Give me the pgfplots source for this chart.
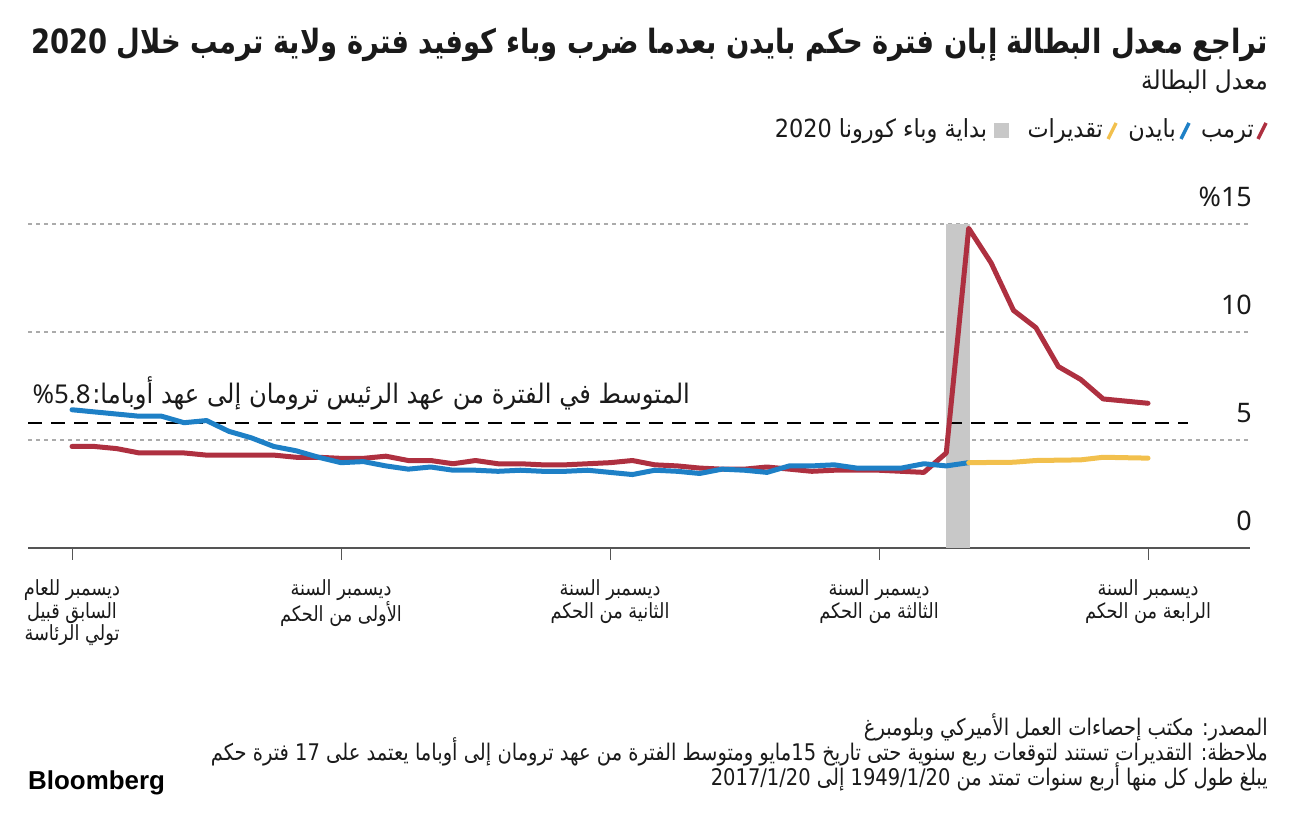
\documentclass[border=0pt]{standalone}
\usepackage{fontspec}
\usepackage{pgfplots}
\pgfplotsset{compat=1.18}
\usetikzlibrary{calc}
\setmainfont{Noto Sans}
\newfontfamily\arabicfont[Script=Arabic,FakeStretch=0.9]{DejaVu Sans}
\newfontfamily\arabictitle[Script=Arabic,FakeStretch=0.82]{DejaVu Sans}
\newfontfamily\arabicnarrow[Script=Arabic,FakeStretch=0.85]{DejaVu Sans}
\newfontfamily\numfont{Noto Sans}
\newfontfamily\brandfont{Liberation Sans}
\TeXXeTstate=1
\definecolor{trumpred}{HTML}{AE3040}
\definecolor{bidenblue}{HTML}{1E80C6}
\definecolor{estyellow}{HTML}{F2C04D}
\definecolor{bandgray}{HTML}{C8C8C8}
\definecolor{gridgray}{HTML}{ABABAB}
\definecolor{axisgray}{HTML}{555555}
\definecolor{txt}{HTML}{1A1A1A}

\pgfplotstableread{
m v
0 4.7
1 4.7
2 4.6
3 4.4
4 4.4
5 4.4
6 4.3
7 4.3
8 4.3
9 4.3
10 4.2
11 4.2
12 4.15
13 4.15
14 4.25
15 4.05
16 4.05
17 3.9
18 4.05
19 3.9
20 3.9
21 3.85
22 3.85
23 3.9
24 3.95
25 4.05
26 3.85
27 3.8
28 3.7
29 3.65
30 3.65
31 3.75
32 3.65
33 3.55
34 3.6
35 3.6
36 3.6
37 3.55
38 3.5
39 4.4
40 14.8
41 13.2
42 11.0
43 10.2
44 8.4
45 7.8
46 6.9
47 6.8
48 6.7
}\trump

\pgfplotstableread{
m v
0 6.4
1 6.3
2 6.2
3 6.1
4 6.1
5 5.8
6 5.9
7 5.4
8 5.1
9 4.7
10 4.5
11 4.2
12 3.95
13 4.0
14 3.8
15 3.65
16 3.75
17 3.6
18 3.6
19 3.55
20 3.6
21 3.55
22 3.55
23 3.6
24 3.5
25 3.4
26 3.6
27 3.55
28 3.45
29 3.65
30 3.6
31 3.5
32 3.8
33 3.8
34 3.85
35 3.7
36 3.7
37 3.7
38 3.9
39 3.8
40 3.95
}\biden

\pgfplotstableread{
m v
40 3.95
42 3.97
43 4.05
45 4.08
46 4.2
48 4.16
}\estim

\begin{document}
\begin{tikzpicture}[x=1bp,y=1bp]
\path[use as bounding box] (0,0) rectangle (1296,828);

% title block
\node[anchor=east, inner sep=0pt, text=txt] at (1268,783)
  {\arabictitle\bfseries\fontsize{33.5}{38}\selectfont\beginR تراجع معدل البطالة إبان فترة حكم بايدن بعدما ضرب وباء كوفيد فترة ولاية ترمب خلال 2020\endR};
\node[anchor=east, inner sep=0pt, text=txt] at (1268,746)
  {\arabicfont\fontsize{26}{30}\selectfont\beginR معدل البطالة\endR};

% legend
\draw[trumpred, line width=3.4bp] (1258,689) -- (1266,705);
\node[anchor=base east, inner sep=0pt, text=txt] (t1) at (1254,690)
  {\arabicfont\fontsize{25}{28}\selectfont\beginR ترمب\endR};
\path (t1.west) ++(-16,0) coordinate (m2);
\draw[bidenblue, line width=3.4bp] (m2 |- 0,689) ++(-4,0) -- ++(8,16);
\node[anchor=base east, inner sep=0pt, text=txt] (t2) at ($(m2 |- 0,690)+(-9,0)$)
  {\arabicfont\fontsize{25}{28}\selectfont\beginR بايدن\endR};
\path (t2.west) ++(-16,0) coordinate (m3);
\draw[estyellow, line width=3.4bp] (m3 |- 0,689) ++(-4,0) -- ++(8,16);
\node[anchor=base east, inner sep=0pt, text=txt] (t3) at ($(m3 |- 0,690)+(-9,0)$)
  {\arabicfont\fontsize{25}{28}\selectfont\beginR تقديرات\endR};
\path (t3.west) ++(-26,0) coordinate (m4);
\fill[bandgray] (m4 |- 0,690) ++(-7,0) rectangle ++(15,15);
\node[anchor=base east, inner sep=0pt, text=txt] (t4) at ($(m4 |- 0,690)+(-14,0)$)
  {\arabicfont\fontsize{25}{28}\selectfont\beginR بداية وباء كورونا 2020\endR};

\begin{axis}[
  at={(28bp,280bp)}, anchor=south west,
  scale only axis, width=1222bp, height=324bp,
  xmin=-1.963, xmax=52.55, ymin=0, ymax=15,
  clip=false,
  axis x line*=bottom, axis y line*=right,
  y axis line style={draw=none},
  x axis line style={draw=axisgray, line width=1.6bp},
  xtick={0,12,24,36,48},
  xticklabels={
    {\beginR ديسمبر للعام\endR\\\beginR السابق قبيل\endR\\\beginR تولي الرئاسة\endR},
    {\beginR ديسمبر السنة\endR\\\beginR الأولى من الحكم\endR},
    {\beginR ديسمبر السنة\endR\\\beginR الثانية من الحكم\endR},
    {\beginR ديسمبر السنة\endR\\\beginR الثالثة من الحكم\endR},
    {\beginR ديسمبر السنة\endR\\\beginR الرابعة من الحكم\endR}},
  tick align=outside, major tick length=12bp,
  xtick style={draw=axisgray, line width=1bp},
  ytick={0,5,10,15}, yticklabels={0,5,10,\%15},
  ytick style={draw=none},
  ymajorgrids,
  grid style={draw=gridgray, line width=1.8bp, dash pattern=on 4bp off 4bp},
  yticklabel style={anchor=south east, inner sep=0pt, yshift=17bp, xshift=-10bp, text=txt,
     font=\numfont\fontsize{27}{30}\selectfont},
  xticklabel style={anchor=north, align=center, inner sep=0pt, yshift=-19bp, text=txt,
     font=\arabicnarrow\fontsize{21}{23}\selectfont},
]
\addplot[fill=bandgray, draw=none] coordinates {(39,0) (40.05,0) (40.05,15) (39,15)} -- cycle;
\addplot[black, line width=2bp, dash pattern=on 14bp off 9bp] coordinates {(-1.96,5.8) (49.8,5.8)};
\addplot[trumpred, line width=5bp, line join=round, line cap=round] table[x=m,y=v] {\trump};
\addplot[bidenblue, line width=5bp, line join=round, line cap=round] table[x=m,y=v] {\biden};
\addplot[estyellow, line width=5bp, line join=round, line cap=round] table[x=m,y=v] {\estim};
\end{axis}

\node[anchor=east, inner sep=0pt, text=txt] at (690,435)
  {{\numfont\fontsize{26}{30}\selectfont\%5.8}\,{\arabicfont\fontsize{27}{30}\selectfont\beginR المتوسط في الفترة من عهد الرئيس ترومان إلى عهد أوباما:\endR}};

% footer
\node[anchor=east, inner sep=0pt, text=txt] at (1268,101)
  {\arabicnarrow\fontsize{23}{25}\selectfont\beginR المصدر: مكتب إحصاءات العمل الأميركي وبلومبرغ\endR};
\node[anchor=east, inner sep=0pt, text=txt] at (1268,76)
  {\arabicnarrow\fontsize{23}{25}\selectfont\beginR ملاحظة: التقديرات تستند لتوقعات ربع سنوية حتى تاريخ 15مايو ومتوسط الفترة من عهد ترومان إلى أوباما يعتمد على 17 فترة حكم\endR};
\node[anchor=east, inner sep=0pt, text=txt] at (1268,51)
  {\arabicnarrow\fontsize{23}{25}\selectfont\beginR يبلغ طول كل منها أربع سنوات تمتد من \beginL 1949/1/20\endL{} إلى \beginL 2017/1/20\endL{}\endR};
\node[anchor=west, inner sep=0pt, text=black] at (28,45)
  {\brandfont\bfseries\fontsize{26}{30}\selectfont Bloomberg};
\end{tikzpicture}
\end{document}
